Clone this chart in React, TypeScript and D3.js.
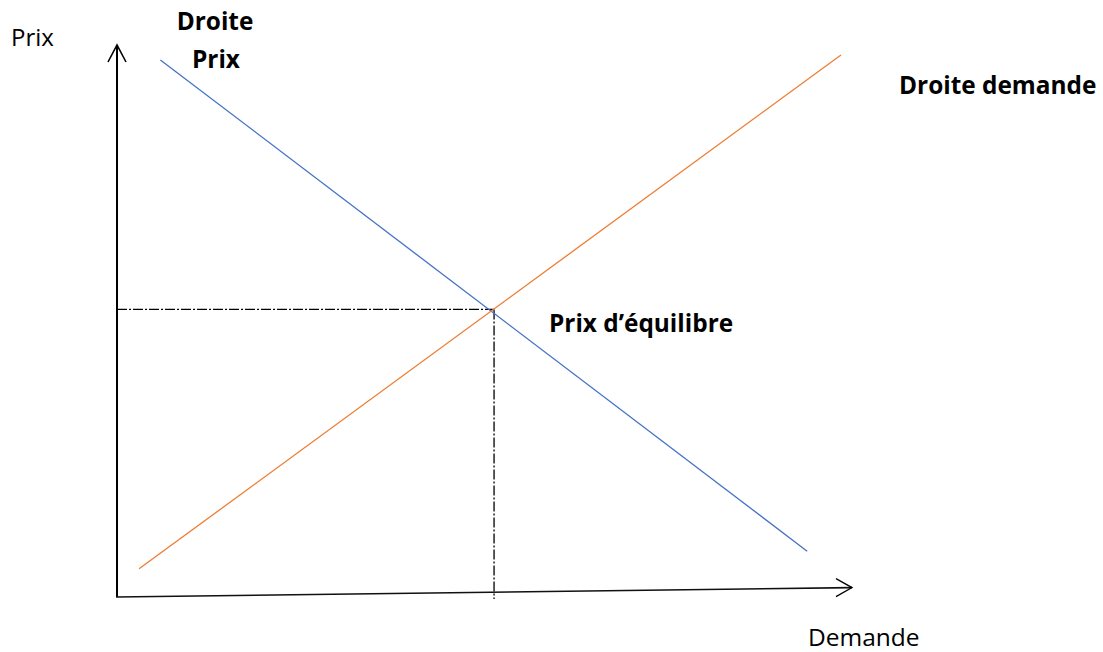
import { scaleLinear, line } from "d3";

// hand-read values, in price / quantity units (0..100)
const offreLine: [number, number][] = [
  [5.9, 97.3],
  [93.9, 8.3]
];
const demandeLine: [number, number][] = [
  [3.0, 5.1],
  [98.5, 98.2]
];
const equilibre: [number, number] = [51.3, 52.1];
const xAxisEnd: [number, number] = [100, 1.7];
const yAxisEnd: [number, number] = [0, 100];

const labels = {
  yTitle: "Prix",
  xTitle: "Demande",
  offre: ["Droite", "Prix"],
  demande: "Droite demande",
  eq: "Prix d’équilibre"
};

const width = 1103;
const height = 652;
const origin = { x: 117, y: 597 };
const font = "'Open Sans', 'Noto Sans', sans-serif";

export default function App() {
  const x = scaleLinear().domain([0, 100]).range([origin.x, 852]);
  const y = scaleLinear().domain([0, 100]).range([origin.y, 45]);
  const path = line<[number, number]>()
    .x((d) => x(d[0]))
    .y((d) => y(d[1]));

  const yTip = { x: x(yAxisEnd[0]), y: y(yAxisEnd[1]) };
  const xTip = { x: x(xAxisEnd[0]), y: y(xAxisEnd[1]) };
  const ex = x(equilibre[0]);
  const ey = y(equilibre[1]);

  return (
    <svg
      width={width}
      height={height}
      style={{ position: "absolute", left: 0, top: 0, background: "#fff" }}
    >
      {/* axes */}
      <line x1={origin.x} y1={origin.y} x2={yTip.x} y2={yTip.y} stroke="#000" strokeWidth={2} />
      <path
        d={`M${yTip.x - 9},${yTip.y + 17} L${yTip.x},${yTip.y} L${yTip.x + 9},${yTip.y + 17}`}
        fill="none"
        stroke="#000"
        strokeWidth={1.6}
      />
      <line x1={origin.x - 1} y1={origin.y} x2={xTip.x} y2={xTip.y} stroke="#111" strokeWidth={1.6} />
      <path
        d={`M${xTip.x - 16},${xTip.y - 9} L${xTip.x},${xTip.y} L${xTip.x - 16},${xTip.y + 9}`}
        fill="none"
        stroke="#000"
        strokeWidth={1.3}
      />

      {/* guide lines to equilibrium */}
      <line
        x1={origin.x}
        y1={ey}
        x2={ex}
        y2={ey}
        stroke="#000"
        strokeWidth={1.3}
        strokeDasharray="10 2 2 2"
      />
      <line
        x1={ex}
        y1={ey}
        x2={ex}
        y2={origin.y + 2}
        stroke="#000"
        strokeWidth={1.3}
        strokeDasharray="10 2 2 2"
      />

      {/* curves */}
      <path d={path(offreLine) ?? ""} fill="none" stroke="#4472C4" strokeWidth={1.3} />
      <path d={path(demandeLine) ?? ""} fill="none" stroke="#ED7D31" strokeWidth={1.3} />

      {/* labels */}
      <g fontFamily={font} fill="#000">
        <text x={11} y={46} fontSize={24}>
          {labels.yTitle}
        </text>
        <text x={808} y={646} fontSize={24.5}>
          {labels.xTitle}
        </text>
        <g fontWeight="bold" fontSize={24.4}>
          <text x={215} y={30} textAnchor="middle">
            {labels.offre[0]}
          </text>
          <text x={216} y={68} textAnchor="middle">
            {labels.offre[1]}
          </text>
          <text x={899} y={94}>
            {labels.demande}
          </text>
          <text x={549} y={332}>
            {labels.eq}
          </text>
        </g>
      </g>
    </svg>
  );
}
